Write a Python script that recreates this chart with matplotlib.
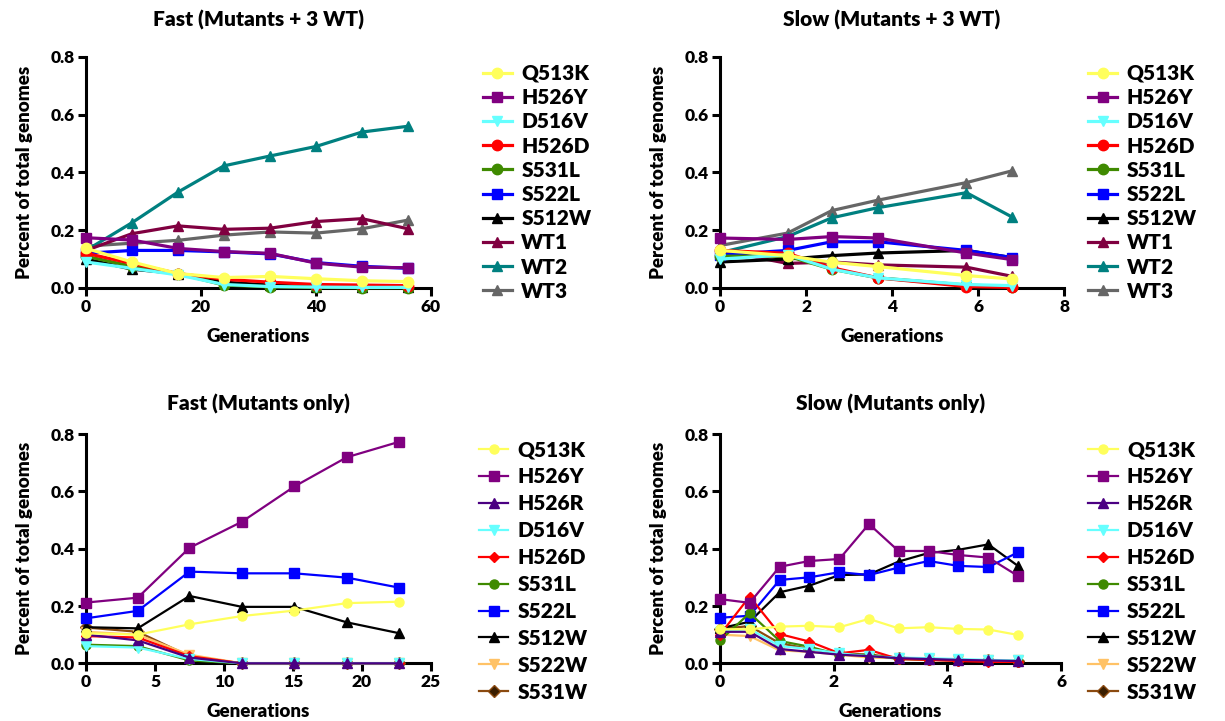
import matplotlib
matplotlib.use("Agg")
import matplotlib.pyplot as plt

plt.rcParams['font.family'] = ['Lato', 'DejaVu Sans']
plt.rcParams['font.weight'] = 'heavy'

# --- Fast (Mutants + 3 WT) ---
fast_wt_gen = [0, 8, 16, 24, 32, 40, 48, 56]
fast_wt_names = ['Q513K', 'H526Y', 'D516V', 'H526D', 'S531L', 'S522L', 'S512W', 'WT1', 'WT2', 'WT3']
fast_wt_vals = [
    [0.137, 0.09, 0.05, 0.036, 0.04, 0.032, 0.025, 0.022],
    [0.174, 0.166, 0.137, 0.126, 0.12, 0.086, 0.072, 0.07],
    [0.09, 0.068, 0.045, 0.012, 0.005, 0.003, 0.002, 0.002],
    [0.12, 0.085, 0.05, 0.03, 0.02, 0.012, 0.01, 0.008],
    [0.11, 0.075, 0.05, 0.01, 0.004, 0.002, 0.001, 0.001],
    [0.12, 0.13, 0.13, 0.125, 0.118, 0.088, 0.075, 0.068],
    [0.1, 0.065, 0.05, 0.02, 0.01, 0.005, 0.003, 0.003],
    [0.13, 0.188, 0.215, 0.203, 0.207, 0.23, 0.24, 0.205],
    [0.13, 0.226, 0.332, 0.423, 0.457, 0.49, 0.54, 0.56],
    [0.145, 0.155, 0.165, 0.183, 0.194, 0.19, 0.205, 0.235],
]

# --- Slow (Mutants + 3 WT) ---
slow_wt_gen = [0, 1.57, 2.6, 3.67, 5.73, 6.8]
slow_wt_names = fast_wt_names
slow_wt_vals = [
    [0.13, 0.112, 0.089, 0.074, 0.043, 0.031],
    [0.173, 0.168, 0.178, 0.173, 0.121, 0.098],
    [0.1, 0.115, 0.065, 0.035, 0.012, 0.008],
    [0.13, 0.12, 0.07, 0.035, 0.005, 0.002],
    [0.11, 0.11, 0.065, 0.035, 0.01, 0.005],
    [0.115, 0.13, 0.16, 0.16, 0.13, 0.105],
    [0.09, 0.1, 0.112, 0.121, 0.13, 0.105],
    [0.13, 0.085, 0.09, 0.08, 0.072, 0.04],
    [0.122, 0.178, 0.243, 0.278, 0.33, 0.245],
    [0.147, 0.19, 0.268, 0.304, 0.365, 0.406],
]

# --- Fast (Mutants only) ---
fast_mut_gen = [0, 3.75, 7.5, 11.3, 15.1, 18.9, 22.7]
mut_names = ['Q513K', 'H526Y', 'H526R', 'D516V', 'H526D', 'S531L', 'S522L', 'S512W', 'S522W', 'S531W']
fast_mut_vals = [
    [0.105, 0.1, 0.136, 0.165, 0.184, 0.21, 0.215],
    [0.212, 0.229, 0.403, 0.494, 0.617, 0.719, 0.773],
    [0.1, 0.08, 0.02, 0, 0, 0, 0],
    [0.06, 0.055, 0.015, 0, 0, 0, 0],
    [0.095, 0.09, 0.025, 0, 0, 0, 0],
    [0.065, 0.06, 0.01, 0, 0, 0, 0],
    [0.157, 0.183, 0.32, 0.314, 0.314, 0.299, 0.264],
    [0.126, 0.122, 0.235, 0.197, 0.197, 0.143, 0.105],
    [0.11, 0.1, 0.03, 0, 0, 0, 0],
    [0.125, 0.11, 0.025, 0, 0, 0, 0],
]

# --- Slow (Mutants only) ---
slow_mut_gen = [0, 0.52, 1.05, 1.57, 2.1, 2.62, 3.14, 3.67, 4.19, 4.72, 5.24]
slow_mut_vals = [
    [0.119, 0.119, 0.128, 0.131, 0.126, 0.155, 0.122, 0.126, 0.12, 0.118, 0.099],
    [0.224, 0.211, 0.337, 0.357, 0.364, 0.486, 0.392, 0.392, 0.378, 0.369, 0.305],
    [0.11, 0.11, 0.05, 0.04, 0.03, 0.025, 0.018, 0.015, 0.012, 0.01, 0.008],
    [0.11, 0.12, 0.06, 0.05, 0.035, 0.025, 0.02, 0.018, 0.015, 0.012, 0.01],
    [0.1, 0.233, 0.102, 0.076, 0.035, 0.047, 0.015, 0.012, 0.008, 0.005, 0.005],
    [0.08, 0.175, 0.078, 0.058, 0.03, 0.03, 0.015, 0.012, 0.01, 0.008, 0.005],
    [0.159, 0.166, 0.291, 0.3, 0.318, 0.308, 0.334, 0.357, 0.34, 0.336, 0.387],
    [0.122, 0.145, 0.248, 0.271, 0.308, 0.31, 0.355, 0.385, 0.396, 0.415, 0.34],
    [0.1, 0.095, 0.045, 0.04, 0.03, 0.02, 0.018, 0.015, 0.012, 0.01, 0.01],
    [0.12, 0.13, 0.07, 0.05, 0.035, 0.03, 0.02, 0.015, 0.012, 0.01, 0.008],
]

# colour / marker / face colour per strain
styles = {
    'Q513K': ('#FFFF5C', 'o', '#FFFF5C'),
    'H526Y': ('#800080', 's', '#800080'),
    'H526R': ('#4B0082', '^', '#4B0082'),
    'D516V': ('#66FFFF', 'v', '#66FFFF'),
    'H526D': ('#FF0000', 'o', '#FF0000'),
    'S531L': ('#3F8A00', 'o', '#3F8A00'),
    'S522L': ('#0000FF', 's', '#0000FF'),
    'S512W': ('#000000', '^', '#000000'),
    'WT1': ('#800040', '^', '#800040'),
    'WT2': ('#008080', '^', '#008080'),
    'WT3': ('#666666', '^', '#666666'),
    'S522W': ('#FFC266', 'v', '#FFC266'),
    'S531W': ('#8B4A10', 'D', '#3a1e00'),
}

fig = plt.figure(figsize=(12.25, 7.21), dpi=100)

panels = [
    ('Fast (Mutants + 3 WT)', fast_wt_gen, fast_wt_names, fast_wt_vals, [0.0702, 0.6006, 0.2816, 0.3204], 60, [0, 20, 40, 60], True, 1.15),
    ('Slow (Mutants + 3 WT)', slow_wt_gen, slow_wt_names, slow_wt_vals, [0.5878, 0.6006, 0.2808, 0.3204], 8, [0, 2, 4, 6, 8], True, 1.07),
    ('Fast (Mutants only)', fast_mut_gen, mut_names, fast_mut_vals, [0.0702, 0.080, 0.2816, 0.318], 25, [0, 5, 10, 15, 20, 25], False, 1.14),
    ('Slow (Mutants only)', slow_mut_gen, mut_names, slow_mut_vals, [0.5878, 0.080, 0.2784, 0.318], 6, [0, 2, 4, 6], False, 1.08),
]

for title, gen, names, vals, pos, xmax, xticks, top, legx in panels:
    ax = fig.add_axes(pos)
    lw = 2.3 if top else 1.6
    ms = 7.5 if top else 6.5
    n = len(names)
    for i, (name, y) in enumerate(zip(names, vals)):
        c, m, fc = styles[name]
        msize = ms
        if name == 'H526D' and not top:
            m = 'D'
            msize = 5
        ax.plot(gen, y, color=c, marker=m, markerfacecolor=fc, markeredgecolor=c,
                markersize=msize, linewidth=lw, label=name, zorder=10 + n - i, clip_on=False)
    ax.set_xlim(0, xmax)
    ax.set_ylim(0, 0.8)
    ax.set_xticks(xticks)
    ax.set_yticks([0.0, 0.2, 0.4, 0.6, 0.8])
    ax.set_yticklabels(['0.0', '0.2', '0.4', '0.6', '0.8'])
    for s in ['top', 'right']:
        ax.spines[s].set_visible(False)
    for s in ['left', 'bottom']:
        ax.spines[s].set_linewidth(2.2)
    ax.tick_params(width=2.2, length=6, labelsize=12.5, pad=2)
    ax.set_title(title, fontsize=15, fontweight='heavy', pad=22 if top else 17)
    ax.set_xlabel('Generations', fontsize=13.5, fontweight='heavy', labelpad=9)
    ax.set_ylabel('Percent of total genomes', fontsize=13.5, fontweight='heavy', labelpad=13)
    if top:
        ax.legend(loc='upper left', bbox_to_anchor=(legx, 0.97), frameon=False, fontsize=15,
                  handlelength=1.4, handletextpad=0.45, borderaxespad=0, borderpad=0,
                  labelspacing=0.25)
    else:
        ax.legend(loc='lower left', bbox_to_anchor=(legx, -0.167), frameon=False, fontsize=15,
                  handlelength=1.4, handletextpad=0.45, borderaxespad=0, borderpad=0,
                  labelspacing=0.38)

fig.savefig('out.png', dpi=100)
